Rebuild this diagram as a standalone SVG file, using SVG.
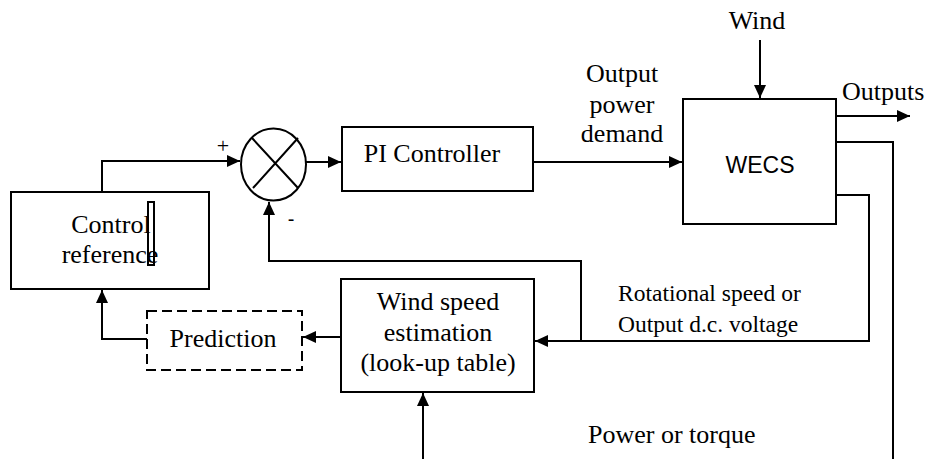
<svg xmlns="http://www.w3.org/2000/svg" width="926" height="459" viewBox="0 0 926 459">
<style>
.box{fill:#fff;stroke:#000;stroke-width:2}
.dash{fill:none;stroke:#000;stroke-width:2;stroke-dasharray:10 5}
.ln{fill:none;stroke:#000;stroke-width:2}
.arr{fill:none;stroke:#000;stroke-width:2;marker-end:url(#ah)}
.t{font-family:"Liberation Serif","Times New Roman",serif;font-size:26px;fill:#000}
.ts{font-family:"Liberation Serif","Times New Roman",serif;font-size:23.5px;fill:#000}
.sans{font-family:"Liberation Sans",Arial,sans-serif;font-size:23px;fill:#000}
</style>
<defs>
<marker id="ah" markerUnits="userSpaceOnUse" markerWidth="14" markerHeight="12" refX="13" refY="6" orient="auto">
<path d="M0,0 L13,6 L0,12 Z" fill="#000"/>
</marker>
</defs>
<rect width="926" height="459" fill="#fff"/>

<g id="connectors">
<path class="arr" d="M102,192 V161 H240"/>
<path class="arr" d="M306,162 H341"/>
<path class="arr" d="M533,162 H682"/>
<path class="arr" d="M760,40 V98"/>
<path class="arr" d="M836,116 H910"/>
<path class="ln" d="M836,142 H893 V459"/>
<path class="arr" d="M836,195 H869 V341 H535"/>
<path class="arr" d="M581,341 V261 H269 V202"/>
<path class="arr" d="M341,337 H303"/>
<path class="arr" d="M147,339 H102 V290"/>
<path class="arr" d="M423,459 V393"/>
</g>

<g id="control-reference">
<rect class="box" x="11" y="192" width="198" height="97"/>
<text class="t" x="111" y="233" text-anchor="middle">Control</text>
<text class="t" x="110" y="263" text-anchor="middle">reference</text>
<rect x="148" y="202" width="6" height="63" fill="none" stroke="#000" stroke-width="2"/>
</g>

<g id="summing-junction">
<ellipse class="box" cx="273.5" cy="164.5" rx="32.5" ry="36"/>
<path class="ln" d="M252,138 L298,188 M298,138 L253,188"/>
<text class="t" x="223" y="153" text-anchor="middle" style="font-size:22px">+</text>
<text class="sans" x="291" y="226" text-anchor="middle" style="font-size:20px">-</text>
</g>

<g id="pi-controller">
<rect class="box" x="342" y="127" width="191" height="64"/>
<text class="t" x="432" y="162" text-anchor="middle">PI Controller</text>
</g>

<g id="output-power-demand">
<text class="t" x="622" y="82" text-anchor="middle">Output</text>
<text class="t" x="622" y="113" text-anchor="middle">power</text>
<text class="t" x="622" y="142" text-anchor="middle">demand</text>
</g>

<g id="wecs">
<rect class="box" x="683" y="99" width="153" height="125"/>
<text class="sans" x="760" y="173" text-anchor="middle">WECS</text>
</g>

<g id="wind-label">
<text class="t" x="757" y="29" text-anchor="middle">Wind</text>
</g>

<g id="outputs-label">
<text class="t" x="842" y="100">Outputs</text>
</g>

<g id="wind-speed-estimation">
<rect class="box" x="341" y="279" width="193" height="113"/>
<text class="t" x="438" y="310" text-anchor="middle">Wind speed</text>
<text class="t" x="438" y="341" text-anchor="middle">estimation</text>
<text class="t" x="438" y="371" text-anchor="middle">(look-up table)</text>
</g>

<g id="prediction">
<rect class="dash" x="147" y="311" width="155" height="59"/>
<text class="t" x="223" y="347" text-anchor="middle">Prediction</text>
</g>

<g id="rotational-label">
<text class="ts" x="618" y="301">Rotational speed or</text>
<text class="ts" x="618" y="332">Output d.c. voltage</text>
</g>

<g id="power-label">
<text class="t" x="588" y="443">Power or torque</text>
</g>
</svg>
